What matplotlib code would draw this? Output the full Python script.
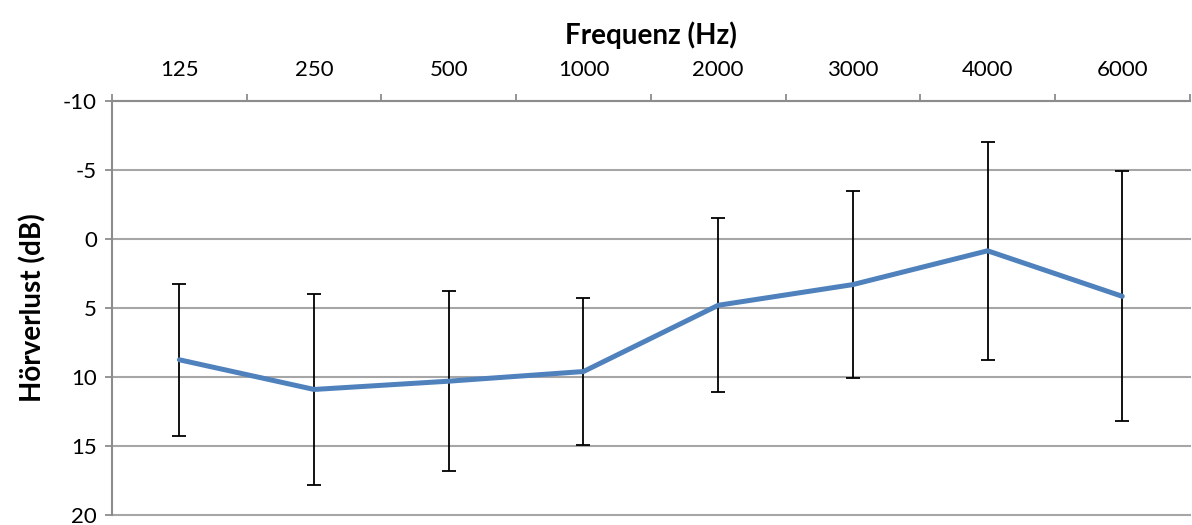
import numpy as np
import matplotlib.pyplot as plt

plt.rcParams['font.family'] = ['Lato', 'DejaVu Sans']

# Hörverlust je Frequenz: Mittelwert und Streuung
frequenzen = ['125', '250', '500', '1000', '2000', '3000', '4000', '6000']
mittelwert = [8.75, 10.9, 10.3, 9.6, 4.8, 3.3, 0.85, 4.15]
streuung = [5.5, 6.9, 6.5, 5.3, 6.3, 6.8, 7.9, 9.05]
y_ticks = [-10, -5, 0, 5, 10, 15, 20]

fig = plt.figure(figsize=(11.92, 5.25), dpi=100)
ax = fig.add_axes([0.094, 0.019, 0.904, 0.7885])

x = np.arange(len(frequenzen))
grau = '#8c8c8c'

ax.errorbar(x, mittelwert, yerr=streuung, fmt='none', ecolor='black',
            elinewidth=1.3, capsize=5, capthick=1.3, zorder=3)
ax.plot(x, mittelwert, color='#4f81bd', linewidth=3.6, zorder=4,
        solid_joinstyle='round', solid_capstyle='round')

ax.set_xlim(-0.5, len(frequenzen) - 0.5)
ax.set_ylim(20, -10)
ax.set_yticks(y_ticks)
ax.set_yticklabels([str(v) for v in y_ticks], fontsize=16)

# Kategorien oben, Teilstriche an den Kategoriegrenzen
ax.xaxis.tick_top()
ax.xaxis.set_label_position('top')
ax.set_xticks(np.arange(len(frequenzen) + 1) - 0.5)
ax.set_xticklabels([])
ax.set_xticks(x, minor=True)
ax.set_xticklabels(frequenzen, minor=True, fontsize=16)
ax.tick_params(axis='x', which='major', length=5, width=1.3, color=grau, direction='out')
ax.tick_params(axis='x', which='minor', length=0, pad=15)
ax.tick_params(axis='y', length=5, width=1.3, color=grau, pad=6)

ax.set_xlabel('Frequenz (Hz)', fontsize=20, fontweight='bold', labelpad=12)
ax.set_ylabel('Hörverlust (dB)', fontsize=20, fontweight='bold', labelpad=12)

ax.yaxis.grid(True, color='#a6a6a6', linewidth=1.5)
for line in ax.get_ygridlines():
    line.set_clip_on(False)
ax.set_axisbelow(True)
for side in ['right', 'bottom']:
    ax.spines[side].set_visible(False)
for side in ['left', 'top']:
    ax.spines[side].set_color(grau)
    ax.spines[side].set_linewidth(1.5)

fig.savefig('out.png', dpi=100)
